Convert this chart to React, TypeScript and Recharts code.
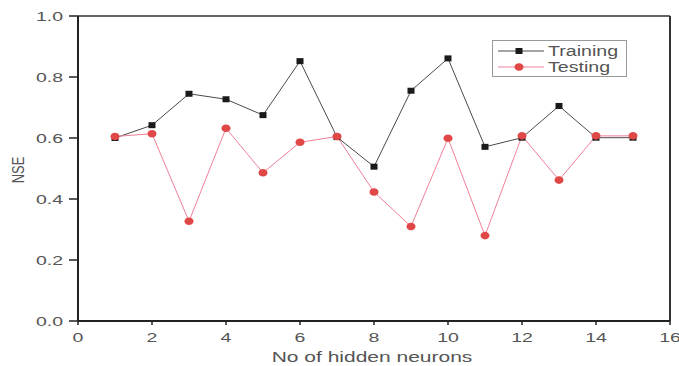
import React from 'react';
import { LineChart, Line, XAxis, YAxis, ReferenceLine, Legend } from 'recharts';

const neurons = [1, 2, 3, 4, 5, 6, 7, 8, 9, 10, 11, 12, 13, 14, 15];
const training = [0.60, 0.642, 0.745, 0.727, 0.675, 0.852, 0.603, 0.506, 0.755, 0.861, 0.571, 0.601, 0.705, 0.601, 0.601];
const testing = [0.605, 0.614, 0.327, 0.632, 0.486, 0.586, 0.605, 0.423, 0.310, 0.599, 0.280, 0.607, 0.462, 0.607, 0.607];
const xTicks = [0, 2, 4, 6, 8, 10, 12, 14, 16];
const yTicks = [0, 0.2, 0.4, 0.6, 0.8, 1.0];

const data = neurons.map((n, i) => ({ n, training: training[i], testing: testing[i] }));

const TRAIN_LINE = '#4a4a4a';
const TRAIN_MARK = '#1a1a1a';
const TEST_LINE = '#f07f98';
const TEST_MARK = '#e04848';
const TEXT = '#555555';
const FONT = 'Liberation Sans, Arial, sans-serif';
const SX = 1.5;

const SquareDot = (props: any) => {
  const { cx, cy } = props;
  if (cx == null || cy == null) return null;
  return <rect x={cx - 3.5} y={cy - 3} width={7} height={6} fill={TRAIN_MARK} />;
};
const CircleDot = (props: any) => {
  const { cx, cy } = props;
  if (cx == null || cy == null) return null;
  return <ellipse cx={cx} cy={cy} rx={4.5} ry={3.8} fill={TEST_MARK} />;
};

const YTick = (props: any) => {
  const { x, y, payload } = props;
  return (
    <g transform={`translate(${x},${y}) scale(${SX},1)`}>
      <text textAnchor="end" dy="0.36em" fill={TEXT} fontSize={13} fontFamily={FONT}>
        {Number(payload.value).toFixed(1)}
      </text>
    </g>
  );
};
const XTickScaled = (props: any) => {
  const { x, y, payload } = props;
  return (
    <g transform={`translate(${x},${y + 12}) scale(${SX},1)`}>
      <text textAnchor="middle" dy="0.36em" fill={TEXT} fontSize={13} fontFamily={FONT}>
        {String(payload.value)}
      </text>
    </g>
  );
};

const XLabel = (props: any) => {
  const { viewBox } = props;
  const cx = viewBox.x + viewBox.width / 2 - 2;
  return (
    <g transform={`translate(${cx},357) scale(${SX},1)`}>
      <text textAnchor="middle" dy="0.36em" fill={TEXT} fontSize={14} fontFamily={FONT}>No of hidden neurons</text>
    </g>
  );
};
const YLabel = () => (
  <g transform={`translate(18,170) rotate(-90) scale(1,1.3)`}>
    <text textAnchor="middle" dy="0.36em" fill={TEXT} fontSize={13} fontFamily={FONT}>NSE</text>
  </g>
);

const LegendBox = () => (
  <svg width={136} height={38} style={{ display: 'block' }}>
    <rect x={0.5} y={0.5} width={134} height={36} fill="#fff" stroke="#999" strokeWidth={1} />
    <line x1={6} y1={11} x2={52} y2={11} stroke={TRAIN_LINE} strokeWidth={1} />
    <rect x={23.5} y={8} width={7} height={6} fill={TRAIN_MARK} />
    <g transform={`translate(56,11) scale(1.4,1)`}>
      <text dy="0.36em" fill={TEXT} fontSize={14} fontFamily={FONT}>Training</text>
    </g>
    <line x1={6} y1={27} x2={52} y2={27} stroke={TEST_LINE} strokeWidth={1} />
    <ellipse cx={27} cy={27} rx={4.5} ry={3.8} fill={TEST_MARK} />
    <g transform={`translate(56,27) scale(1.4,1)`}>
      <text dy="0.36em" fill={TEXT} fontSize={14} fontFamily={FONT}>Testing</text>
    </g>
  </svg>
);

export default function App() {
  return (
    <div style={{ position: 'absolute', left: 0, top: 0, width: 679, height: 366, background: '#fff' }}>
      <LineChart width={679} height={366} data={data} margin={{ top: 16, right: 9, left: 0, bottom: 0 }}>
        <XAxis
          dataKey="n"
          type="number"
          domain={[0, 16]}
          ticks={xTicks}
          axisLine={{ stroke: '#222', strokeWidth: 2 }}
          tickLine={{ stroke: '#222', strokeWidth: 1.5 }}
          tickSize={4}
          tickMargin={0}
          tick={<XTickScaled />}
          height={45}
          label={<XLabel />}
        />
        <YAxis
          type="number"
          domain={[0, 1]}
          ticks={yTicks}
          axisLine={{ stroke: '#222', strokeWidth: 2 }}
          tickLine={{ stroke: '#222', strokeWidth: 1.5 }}
          tickSize={9}
          tickMargin={6}
          tick={<YTick />}
          width={78}
          label={<YLabel />}
        />
        <ReferenceLine y={1} stroke="#333" strokeWidth={1.5} />
        <ReferenceLine x={16} stroke="#333" strokeWidth={2} />
        <Legend
          verticalAlign="middle"
          align="center"
          layout="horizontal"
          wrapperStyle={{ left: 492, top: 40, width: 136, height: 38 }}
          content={() => <LegendBox />}
        />
        <Line type="linear" dataKey="training" stroke={TRAIN_LINE} strokeWidth={1} dot={<SquareDot />} isAnimationActive={false} />
        <Line type="linear" dataKey="testing" stroke={TEST_LINE} strokeWidth={1} dot={<CircleDot />} isAnimationActive={false} />
      </LineChart>
    </div>
  );
}
